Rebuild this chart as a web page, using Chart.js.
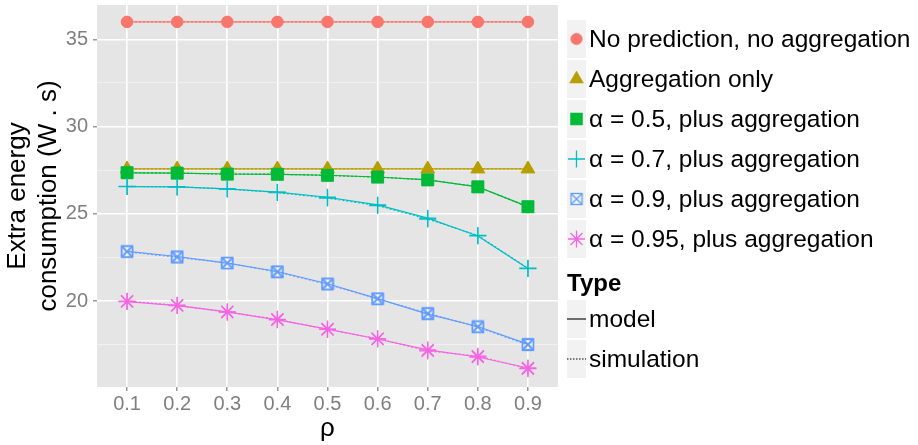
<!DOCTYPE html>
<html>
<head>
<meta charset="utf-8">
<script src="https://cdn.jsdelivr.net/npm/chart.js"></script>
<style>
  html, body { margin: 0; padding: 0; background: #fff; }
  canvas { display: block; }
</style>
</head>
<body>
<canvas id="energyChart" width="918" height="445"></canvas>
<script>
// load factor on the x axis
const rho = [0.1, 0.2, 0.3, 0.4, 0.5, 0.6, 0.7, 0.8, 0.9];
const xTicks = [0.1, 0.2, 0.3, 0.4, 0.5, 0.6, 0.7, 0.8, 0.9];
const yMajor = [20, 25, 30, 35];
const yMinor = [17.5, 22.5, 27.5, 32.5];

const seriesNames = [
  'No prediction, no aggregation',
  'Aggregation only',
  'α = 0.5, plus aggregation',
  'α = 0.7, plus aggregation',
  'α = 0.9, plus aggregation',
  'α = 0.95, plus aggregation',
];
const seriesColors = ['#F8766D', '#B79F00', '#00BA38', '#00BFC4', '#619CFF', '#F564E3'];
const typeNames = ['model', 'simulation'];

// extra energy (W.s), analytical model
const noPredModel    = [36.0, 36.0, 36.0, 36.0, 36.0, 36.0, 36.0, 36.0, 36.0];
const aggOnlyModel   = [27.57, 27.57, 27.57, 27.57, 27.57, 27.57, 27.57, 27.57, 27.57];
const alpha05Model   = [27.35, 27.33, 27.28, 27.26, 27.21, 27.11, 26.94, 26.54, 25.41];
const alpha07Model   = [26.56, 26.54, 26.43, 26.24, 25.95, 25.51, 24.75, 23.73, 21.86];
const alpha09Model   = [22.84, 22.55, 22.17, 21.69, 20.99, 20.14, 19.25, 18.54, 17.53];
const alpha095Model  = [19.97, 19.74, 19.38, 18.92, 18.39, 17.82, 17.20, 16.79, 16.16];

// extra energy (W.s), simulation runs
const noPredSim      = [36.0, 36.0, 36.0, 36.0, 36.0, 36.0, 36.0, 36.0, 36.0];
const aggOnlySim     = [27.57, 27.57, 27.57, 27.57, 27.57, 27.57, 27.57, 27.57, 27.57];
const alpha05Sim     = [27.36, 27.33, 27.27, 27.27, 27.20, 27.10, 26.95, 26.55, 25.40];
const alpha07Sim     = [26.57, 26.55, 26.42, 26.22, 25.90, 25.47, 24.70, 23.76, 21.88];
const alpha09Sim     = [22.83, 22.50, 22.18, 21.66, 20.96, 20.12, 19.30, 18.50, 17.48];
const alpha095Sim    = [19.99, 19.76, 19.36, 18.95, 18.37, 17.84, 17.14, 16.84, 16.12];

const modelValues = [noPredModel, aggOnlyModel, alpha05Model, alpha07Model, alpha09Model, alpha095Model];
const simValues = [noPredSim, aggOnlySim, alpha05Sim, alpha07Sim, alpha09Sim, alpha095Sim];

const FONT = "'Liberation Sans', Arial, Helvetica, sans-serif";
const GREY = '#7f7f7f';

// open square with a diagonal cross (ggplot shape 7)
function squareCross(color) {
  const c = document.createElement('canvas');
  c.width = 14; c.height = 14;
  const g = c.getContext('2d');
  g.strokeStyle = color;
  g.lineWidth = 1.3;
  g.strokeRect(1.5, 1.5, 11, 11);
  g.beginPath();
  g.moveTo(1.5, 1.5); g.lineTo(12.5, 12.5);
  g.moveTo(12.5, 1.5); g.lineTo(1.5, 12.5);
  g.stroke();
  return c;
}

const markers = [
  { pointStyle: 'circle', radius: 5.8, borderWidth: 0.5 },
  { pointStyle: 'triangle', radius: 8, borderWidth: 0.5 },
  { pointStyle: 'rect', radius: 8.5, borderWidth: 0.5 },
  { pointStyle: 'cross', radius: 8.5, borderWidth: 1.3 },
  { pointStyle: squareCross(seriesColors[4]), radius: 7, borderWidth: 1 },
  { pointStyle: 'star', radius: 8.5, borderWidth: 1.3 },
];

const datasets = [];
// lines first (underneath), then points on top
seriesNames.forEach((name, i) => {
  [modelValues[i], simValues[i]].forEach((vals, t) => {
    datasets.push({
      label: name + ' ' + typeNames[t],
      data: rho.map((x, j) => ({ x, y: vals[j] })),
      borderColor: seriesColors[i],
      borderWidth: 1.2,
      borderDash: t === 1 ? [2, 2] : [],
      pointRadius: 0,
      fill: false,
      order: 200 - datasets.length,
    });
  });
});
seriesNames.forEach((name, i) => {
  [modelValues[i], simValues[i]].forEach((vals) => {
    datasets.push({
      label: name,
      data: rho.map((x, j) => ({ x, y: vals[j] })),
      showLine: false,
      pointStyle: markers[i].pointStyle,
      pointRadius: markers[i].radius,
      pointBackgroundColor: seriesColors[i],
      pointBorderColor: seriesColors[i],
      pointBorderWidth: markers[i].borderWidth,
      order: 100 - i,
    });
  });
});

const panelBackground = {
  id: 'panelBackground',
  beforeDraw(chart) {
    const { ctx, chartArea: a } = chart;
    ctx.save();
    ctx.fillStyle = '#e5e5e5';
    ctx.fillRect(a.left, a.top, a.right - a.left, a.bottom - a.top);
    ctx.restore();
  },
};

const sideLegend = {
  id: 'sideLegend',
  afterDraw(chart) {
    const ctx = chart.ctx;
    const keyX = 567, keyW = 19, keyH = 38, textX = 589, pitch = 40;
    ctx.save();
    ctx.textBaseline = 'middle';
    ctx.textAlign = 'left';

    seriesNames.forEach((name, i) => {
      const top = 20 + i * pitch;
      const cy = top + keyH / 2;
      ctx.fillStyle = '#f2f2f2';
      ctx.fillRect(keyX, top, keyW, keyH);
      ctx.fillStyle = seriesColors[i];
      ctx.strokeStyle = seriesColors[i];
      ctx.lineWidth = markers[i].borderWidth;
      Chart.helpers.drawPoint(ctx, {
        pointStyle: markers[i].pointStyle,
        radius: markers[i].radius,
        rotation: 0,
        borderWidth: markers[i].borderWidth,
      }, keyX + keyW / 2, cy);
      ctx.fillStyle = '#000';
      ctx.font = '24.5px ' + FONT;
      ctx.fillText(name, textX, cy + 1);
    });

    ctx.fillStyle = '#000';
    ctx.font = 'bold 24px ' + FONT;
    ctx.fillText('Type', keyX, 284);

    typeNames.forEach((name, t) => {
      const top = 300 + t * pitch;
      const cy = top + keyH / 2;
      ctx.fillStyle = '#f2f2f2';
      ctx.fillRect(keyX, top, keyW, keyH);
      ctx.strokeStyle = '#000';
      ctx.lineWidth = 1.1;
      ctx.setLineDash(t === 1 ? [1.5, 1.5] : []);
      ctx.beginPath();
      ctx.moveTo(keyX, cy);
      ctx.lineTo(keyX + keyW, cy);
      ctx.stroke();
      ctx.setLineDash([]);
      ctx.fillStyle = '#000';
      ctx.font = '24.5px ' + FONT;
      ctx.fillText(name, textX, cy + 1);
    });
    ctx.restore();
  },
};

new Chart(document.getElementById('energyChart').getContext('2d'), {
  type: 'line',
  data: { datasets },
  plugins: [panelBackground, sideLegend],
  options: {
    responsive: false,
    animation: false,
    events: [],
    layout: { autoPadding: false, padding: { left: 0, top: 5, right: 360, bottom: 0 } },
    plugins: { legend: { display: false }, tooltip: { enabled: false } },
    scales: {
      x: {
        type: 'linear',
        min: 0.04,
        max: 0.96,
        afterBuildTicks: (scale) => { scale.ticks = xTicks.map((v) => ({ value: v })); },
        afterFit: (scale) => {
          scale.height = 58;
          scale.paddingLeft = 0;
          scale.paddingRight = 0;
        },
        border: { display: false },
        grid: { color: '#ffffff', lineWidth: 1.6, tickLength: 4, tickColor: GREY, tickWidth: 1.2 },
        ticks: {
          color: GREY,
          font: { family: FONT, size: 20 },
          padding: 1,
          maxRotation: 0,
          callback: (v) => v.toFixed(1),
        },
        title: {
          display: true,
          text: 'ρ',
          color: '#000',
          font: { family: FONT, size: 26 },
          padding: { top: 0, bottom: 1 },
        },
      },
      y: {
        type: 'linear',
        min: 15.07,
        max: 36.97,
        afterBuildTicks: (scale) => {
          scale.ticks = [...yMinor, ...yMajor].sort((a, b) => a - b).map((v) => ({ value: v }));
        },
        afterFit: (scale) => {
          scale.width = 97;
          scale.paddingTop = 0;
          scale.paddingBottom = 0;
        },
        border: { display: false },
        grid: {
          color: (c) => (c.tick && yMinor.includes(c.tick.value) ? '#f2f2f2' : '#ffffff'),
          lineWidth: (c) => (c.tick && yMinor.includes(c.tick.value) ? 0.8 : 1.6),
          tickLength: 4,
          tickColor: (c) => (c.tick && yMinor.includes(c.tick.value) ? 'rgba(0,0,0,0)' : GREY),
          tickWidth: 1.2,
        },
        ticks: {
          color: GREY,
          font: { family: FONT, size: 20 },
          padding: 5,
          callback: (v) => (yMajor.includes(v) ? String(v) : ''),
        },
        title: {
          display: true,
          text: ['Extra energy', 'consumption (W . s)'],
          color: '#000',
          font: { family: FONT, size: 26, lineHeight: 1.2 },
          padding: { top: 2, bottom: 0 },
        },
      },
    },
  },
});
</script>
</body>
</html>
